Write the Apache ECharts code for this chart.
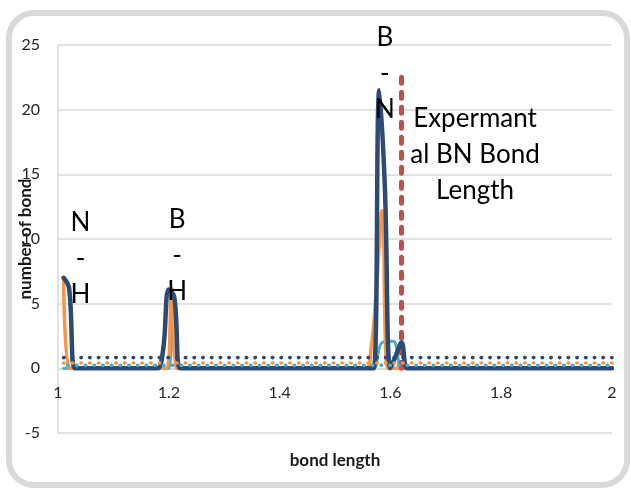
<!DOCTYPE html>
<html>
<head>
<meta charset="utf-8">
<script src="https://cdn.jsdelivr.net/npm/echarts@6/dist/echarts.min.js"></script>
<style>
  html, body { margin: 0; padding: 0; background: #fff; }
  #chart { width: 631px; height: 489px; }
</style>
</head>
<body>
<div id="chart"></div>
<script>
// ---- data ----
const xTicks = [1, 1.2, 1.4, 1.6, 1.8, 2];
const yTicks = [-5, 0, 5, 10, 15, 20, 25];

// dark blue solid series
const navyX = [1.01, 1.02, 1.03, 1.04, 1.17, 1.18, 1.19, 1.20, 1.21, 1.22, 1.23, 1.56, 1.57, 1.58, 1.59, 1.60, 1.61, 1.62, 1.63, 1.64, 2.00];
const navyY = [7.0, 6.2, 0, 0, 0, 0, 1.5, 6.1, 5.5, 0, 0, 0, 0, 21.5, 14.0, 0, 1.0, 2.0, 0, 0, 0];

// orange solid series
const orangeX = [1.01, 1.02, 1.03, 1.195, 1.205, 1.215, 1.225, 1.555, 1.565, 1.575, 1.585, 1.595, 1.605, 2.00];
const orangeY = [6.8, 0, 0, 0, 6.2, 0, 0, 0, 1.5, 6.3, 12.2, 0, 0, 0];

// teal solid series
const tealX = [1.01, 1.19, 1.20, 1.208, 1.216, 1.226, 1.56, 1.57, 1.585, 1.605, 1.62, 1.63, 2.00];
const tealY = [0, 0, 0, 5.8, 0, 0, 0, 0, 2.0, 2.1, 0, 0, 0];

// dotted (round-dot) series
const dotX = [1.01, 2.00];
const navyDotY = [0.83, 0.83];
const orangeDotY = [0.41, 0.41];
const tealDotY = [0.23, 0.23];

// experimental BN bond length marker
const expX = [1.62, 1.62];
const expY = [0, 23];

// text annotations
const annoTexts = ['N\n-\nH', 'B\n-\nH', 'B\n-\nN', 'Expermant\nal BN Bond\nLength'];
const annoX = [1.0406, 1.215, 1.590, 1.7527];
const annoY = [8.5, 8.75, 22.75, 16.55];

const pairs = (xs, ys) => xs.map((x, i) => [x, ys[i]]);

const FONT = 'Lato, "Liberation Sans", sans-serif';
const NAVY = '#2b4a74', ORANGE = '#f79646', TEAL = '#4bacc6', RED = '#c0504d';

const GRID = { left: 58, right: 19, top: 45, bottom: 56 };
const plotH = 489 - GRID.top - GRID.bottom;
const yMin = yTicks[0], yMax = yTicks[yTicks.length - 1];
// x axis sits on y = 0 (as in the reference): shift it up from the grid bottom
const xAxisOffset = -plotH * (0 - yMin) / (yMax - yMin);

const chart = echarts.init(document.getElementById('chart'), null, { renderer: 'canvas' });

function lineSeries(name, data, color, width, extra) {
  return Object.assign({
    name: name, type: 'line', data: data, showSymbol: false, symbol: 'none',
    smooth: 0.4, animation: false,
    lineStyle: { color: color, width: width, cap: 'round', join: 'round' }
  }, extra || {});
}

const dotStyle = (color, offset) => ({ color: color, width: 3.6, type: [0.5, 8.2], cap: 'round', dashOffset: offset });

const option = {
  backgroundColor: '#ffffff',
  animation: false,
  grid: Object.assign({ containLabel: false, outerBoundsMode: 'none' }, GRID),
  xAxis: {
    type: 'value', min: xTicks[0], max: xTicks[xTicks.length - 1], interval: 0.2,
    position: 'bottom', offset: xAxisOffset,
    name: 'bond length', nameLocation: 'middle', nameGap: 84, nameMoveOverlap: false,
    nameTextStyle: { fontFamily: FONT, fontWeight: 'bold', fontSize: 17, color: '#1a1a1a' },
    axisLine: { show: true, onZero: false, lineStyle: { color: '#d9d9d9', width: 1.5 } },
    axisTick: { show: false },
    splitLine: { show: false },
    axisLabel: { fontFamily: FONT, fontSize: 16, color: '#262626', margin: 17 }
  },
  yAxis: {
    type: 'value', min: yMin, max: yMax, interval: 5,
    name: 'number of bond', nameLocation: 'middle', nameGap: 24, nameMoveOverlap: false,
    nameTextStyle: { fontFamily: FONT, fontWeight: 'bold', fontSize: 17, color: '#1a1a1a' },
    axisLine: { show: true, onZero: false, lineStyle: { color: '#d9d9d9', width: 1.5 } },
    axisTick: { show: false },
    splitLine: { show: true, lineStyle: { color: '#d9d9d9', width: 1.5 } },
    axisLabel: { fontFamily: FONT, fontSize: 16, color: '#262626', margin: 18 }
  },
  series: [
    lineSeries('teal', pairs(tealX, tealY), TEAL, 3),
    lineSeries('orange', pairs(orangeX, orangeY), ORANGE, 3.5),
    lineSeries('experimental', pairs(expX, expY), RED, 5, {
      smooth: false, lineStyle: { color: RED, width: 5, type: [6, 9], cap: 'round' }
    }),
    lineSeries('navy', pairs(navyX, navyY), NAVY, 4.5),
    lineSeries('tealDot', pairs(dotX, tealDotY), TEAL, 3.6, { smooth: false, lineStyle: dotStyle(TEAL, 4.35) }),
    lineSeries('orangeDot', pairs(dotX, orangeDotY), ORANGE, 3.6, { smooth: false, lineStyle: dotStyle(ORANGE, 0) }),
    lineSeries('navyDot', pairs(dotX, navyDotY), NAVY, 3.6, { smooth: false, lineStyle: dotStyle(NAVY, 0) })
  ]
};

chart.setOption(option);

const graphics = [{
  type: 'rect', silent: true, z: 100,
  shape: { x: 9, y: 13, width: 618, height: 472, r: 25 },
  style: { fill: 'none', stroke: '#d9d9d9', lineWidth: 6 }
}];
annoTexts.forEach((t, i) => {
  const p = chart.convertToPixel({ gridIndex: 0 }, [annoX[i], annoY[i]]);
  graphics.push({
    type: 'text', silent: true, z: 50, x: p[0], y: p[1],
    style: {
      text: t, fontFamily: FONT, fontSize: 26, lineHeight: 36, fill: '#000',
      align: 'center', verticalAlign: 'middle'
    }
  });
});
chart.setOption({ graphic: graphics });
</script>
</body>
</html>
